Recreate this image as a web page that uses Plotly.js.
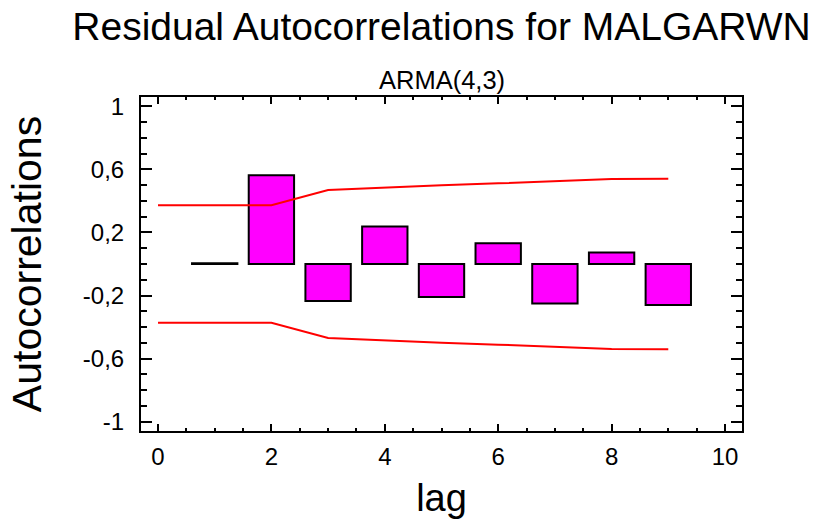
<!DOCTYPE html>
<html><head><meta charset="utf-8">
<script src="https://cdn.plot.ly/plotly-3.0.1.min.js"></script>
<style>html,body{margin:0;padding:0;background:#fff}</style>
</head><body><div id="chart" style="width:816px;height:519px"></div>
<script>
// Data
const lags = [1, 2, 3, 4, 5, 6, 7, 8, 9];
const acf = [0.004, 0.563, -0.235, 0.238, -0.21, 0.132, -0.25, 0.073, -0.26];
const limitLags = [0, 1, 2, 3, 4, 5, 6, 7, 8, 9];
const upperLimit = [0.373, 0.373, 0.373, 0.470, 0.487, 0.500, 0.512, 0.525, 0.540, 0.541];
const lowerLimit = [-0.373, -0.373, -0.373, -0.470, -0.487, -0.500, -0.512, -0.525, -0.540, -0.541];
const xTickVals = [0, 2, 4, 6, 8, 10];
const xTickText = ['0', '2', '4', '6', '8', '10'];
const yTickVals = [-1, -0.6, -0.2, 0.2, 0.6, 1];
const yTickText = ['-1', '-0,6', '-0,2', '0,2', '0,6', '1'];

const FONT = 'Liberation Sans, Arial, sans-serif';

const traces = [
  {
    type: 'bar', x: lags, y: acf, width: 0.8,
    marker: {color: '#FF00FF', line: {color: '#000000', width: 2}},
    hoverinfo: 'x+y', showlegend: false
  },
  {
    type: 'scatter', mode: 'lines', x: limitLags, y: upperLimit,
    line: {color: '#FF0000', width: 2}, showlegend: false
  },
  {
    type: 'scatter', mode: 'lines', x: limitLags, y: lowerLimit,
    line: {color: '#FF0000', width: 2}, showlegend: false
  }
];

const layout = {
  width: 816, height: 519,
  margin: {l: 141, r: 74, t: 97, b: 88, pad: 0},
  paper_bgcolor: '#ffffff', plot_bgcolor: '#ffffff',
  font: {family: FONT, color: '#000000'},
  showlegend: false,
  title: {
    text: 'Residual Autocorrelations for MALGARWN',
    font: {family: FONT, size: 39, color: '#000000'},
    x: 0.5, xref: 'paper', xanchor: 'center',
    y: 0.976, yref: 'container', yanchor: 'top'
  },
  annotations: [{
    text: 'ARMA(4,3)', showarrow: false,
    xref: 'paper', yref: 'paper', x: 0.5, y: 1, xanchor: 'center', yanchor: 'bottom',
    yshift: 1,
    font: {family: FONT, size: 25.5, color: '#000000'}
  }],
  xaxis: {
    range: [-0.3, 10.3],
    tickmode: 'array', tickvals: xTickVals, ticktext: xTickText,
    ticks: 'inside', ticklen: 7, tickwidth: 2, tickcolor: '#000',
    ticklabelstandoff: 3,
    minor: {tickmode: 'linear', tick0: 0, dtick: 0.5, ticks: 'inside', ticklen: 3, tickwidth: 2, tickcolor: '#000'},
    showline: true, linewidth: 2, linecolor: '#000', mirror: 'allticks',
    showgrid: false, zeroline: false,
    tickfont: {family: FONT, size: 24, color: '#000'},
    title: {text: 'lag', font: {family: FONT, size: 38, color: '#000'}, standoff: 29}
  },
  yaxis: {
    range: [-1.06, 1.06],
    tickmode: 'array', tickvals: yTickVals, ticktext: yTickText,
    ticks: 'inside', ticklen: 11, tickwidth: 2, tickcolor: '#000',
    ticklabelstandoff: 10,
    minor: {tickmode: 'linear', tick0: 0, dtick: 0.1, ticks: 'inside', ticklen: 6, tickwidth: 2, tickcolor: '#000'},
    showline: true, linewidth: 2, linecolor: '#000', mirror: 'allticks',
    showgrid: false, zeroline: false,
    tickfont: {family: FONT, size: 24, color: '#000'},
    title: {text: 'Autocorrelations', font: {family: FONT, size: 41, color: '#000'}, standoff: 28}
  }
};

Plotly.newPlot('chart', traces, layout, {displayModeBar: false, staticPlot: true});
</script>
</body></html>
